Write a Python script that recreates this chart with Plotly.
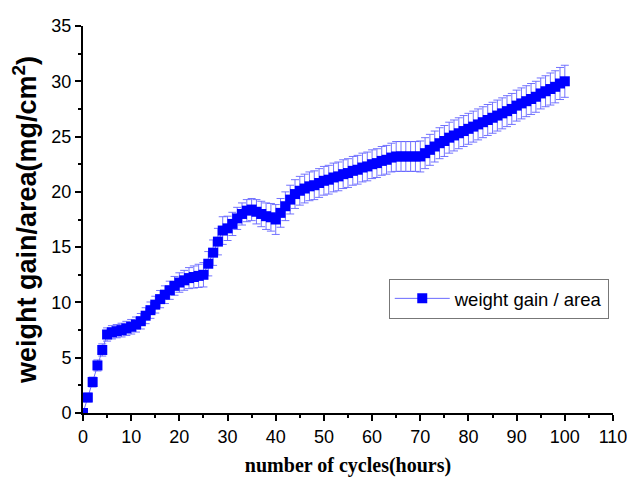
import plotly.graph_objects as go

hours = list(range(0, 101))
gain = [0.0, 1.4, 2.8, 4.3, 5.7, 7.1, 7.3, 7.4, 7.5, 7.65,
        7.8, 8.0, 8.3, 8.8, 9.3, 9.8, 10.3, 10.7, 11.1, 11.5,
        11.8, 12.0, 12.2, 12.3, 12.4, 12.5, 13.5, 14.5, 15.5, 16.5,
        16.7, 17.1, 17.6, 18.0, 18.3, 18.4, 18.2, 18.0, 17.8, 17.7,
        17.5, 18.1, 18.7, 19.3, 19.8, 20.1, 20.3, 20.5, 20.6, 20.8,
        21.0, 21.1, 21.3, 21.4, 21.6, 21.7, 21.9, 22.0, 22.2, 22.3,
        22.5, 22.6, 22.8, 22.9, 23.1, 23.2, 23.2, 23.2, 23.2, 23.2,
        23.2, 23.5, 23.8, 24.1, 24.4, 24.6, 24.9, 25.1, 25.3, 25.5,
        25.7, 25.9, 26.1, 26.3, 26.5, 26.7, 26.9, 27.1, 27.3, 27.5,
        27.8, 28.0, 28.2, 28.4, 28.6, 28.9, 29.1, 29.3, 29.5, 29.8,
        30.0]
err = [0.3, 0.4, 0.45, 0.5, 0.55, 0.6, 0.6, 0.6, 0.62, 0.64,
       0.66, 0.68, 0.7, 0.72, 0.74, 0.76, 0.78, 0.8, 0.82, 0.85,
       0.88, 0.9, 0.95, 1.0, 1.05, 1.1, 1.1, 1.15, 1.2, 1.25,
       1.1, 1.05, 1.0, 1.0, 1.0, 1.0, 1.1, 1.15, 1.2, 1.25,
       1.35, 1.3, 1.3, 1.3, 1.3, 1.3, 1.3, 1.3, 1.3, 1.3,
       1.3, 1.3, 1.3, 1.3, 1.3, 1.3, 1.3, 1.3, 1.3, 1.3,
       1.3, 1.3, 1.3, 1.3, 1.3, 1.35, 1.35, 1.35, 1.35, 1.35,
       1.4, 1.4, 1.4, 1.4, 1.4, 1.4, 1.4, 1.4, 1.4, 1.4,
       1.4, 1.4, 1.4, 1.4, 1.4, 1.4, 1.4, 1.4, 1.4, 1.4,
       1.4, 1.4, 1.4, 1.4, 1.4, 1.4, 1.4, 1.45, 1.45, 1.45,
       1.45]

series_name = "weight gain / area"
x_title = "number of cycles(hours)"
y_title = "weight gain/area(mg/cm<sup>2</sup>)"

fig = go.Figure()
fig.add_trace(go.Scatter(
    x=hours, y=gain, name=series_name, mode="lines+markers",
    line=dict(color="rgba(80,80,255,0.85)", width=1),
    marker=dict(symbol="square", size=10, color="#0000ff", line=dict(width=0)),
    error_y=dict(type="data", array=err, visible=True,
                 color="rgba(100,100,255,0.9)", thickness=1, width=4),
))

# page body has an 8px margin: figure is sized to fit the 635x484 window
fig.update_layout(
    width=627, height=476,
    margin=dict(l=75, r=19, t=8, b=71),
    paper_bgcolor="white", plot_bgcolor="white",
    font=dict(family="Arial, Liberation Sans, sans-serif", size=18, color="black"),
    showlegend=True,
    legend=dict(x=0.992, y=0.295, xanchor="right", yanchor="middle",
                bordercolor="#777777", borderwidth=1, bgcolor="white",
                font=dict(size=18.5), itemwidth=55),
    xaxis=dict(range=[0, 110], dtick=10, tick0=0,
               showline=True, linecolor="black", linewidth=2,
               ticks="outside", ticklen=6, tickwidth=1.5, tickcolor="black",
               ticklabeloverflow="allow",
               minor=dict(dtick=5, ticks="outside", ticklen=3, tickwidth=1.5, tickcolor="black"),
               showgrid=False, zeroline=False,
               title=dict(text=x_title, standoff=12,
                          font=dict(family="Times New Roman, Liberation Serif, serif", size=20, color="black", weight="bold"))),
    yaxis=dict(range=[0, 35], dtick=5, tick0=0,
               showline=True, linecolor="black", linewidth=2,
               ticks="outside", ticklen=6, tickwidth=1.5, tickcolor="black",
               ticklabeloverflow="allow",
               minor=dict(dtick=2.5, ticks="outside", ticklen=3, tickwidth=1.5, tickcolor="black"),
               showgrid=False, zeroline=False,
               title=dict(text=y_title, standoff=7,
                          font=dict(family="Arial, Liberation Sans, sans-serif", size=27, color="black", weight="bold"))),
)

fig.write_html("out.html")
